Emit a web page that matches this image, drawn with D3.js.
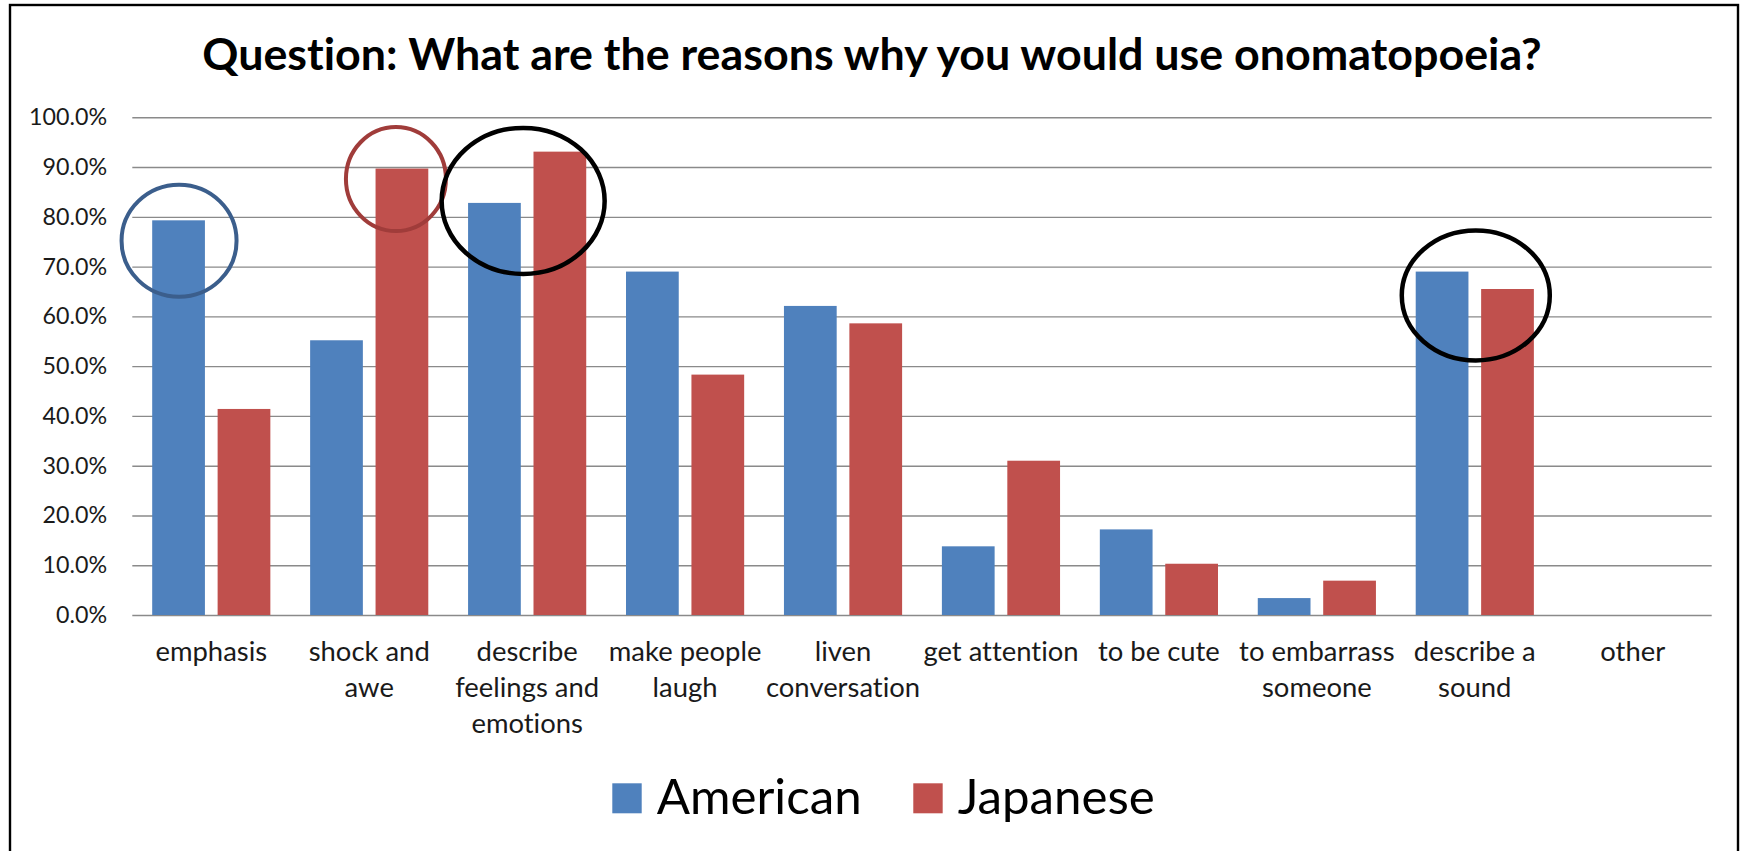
<!DOCTYPE html>
<html>
<head>
<meta charset="utf-8">
<script src="https://cdn.jsdelivr.net/npm/d3@7"></script>
<style>
html, body { margin: 0; padding: 0; background: #ffffff; }
svg { display: block; }
text { font-variant-ligatures: none; font-feature-settings: "liga" 0, "clig" 0, "dlig" 0; }
</style>
</head>
<body>
<svg id="chart" width="1743" height="851"></svg>
<script>
// ---------------- data ----------------
const titleText = "Question: What are the reasons why you would use onomatopoeia?";
const categories = ["emphasis", "shock and awe", "describe feelings and emotions", "make people laugh",
  "liven conversation", "get attention", "to be cute", "to embarrass someone", "describe a sound", "other"];
const categoryLabelLines = [["emphasis"], ["shock and", "awe"], ["describe", "feelings and", "emotions"],
  ["make people", "laugh"], ["liven", "conversation"], ["get attention"], ["to be cute"],
  ["to embarrass", "someone"], ["describe a", "sound"], ["other"]];
const seriesNames = ["American", "Japanese"];
const americanValues = [79.3, 55.2, 82.8, 69.0, 62.1, 13.8, 17.2, 3.4, 69.0, 0];
const japaneseValues = [41.4, 89.7, 93.1, 48.3, 58.6, 31.0, 10.3, 6.9, 65.5, 0];
const yTickValues = [0, 10, 20, 30, 40, 50, 60, 70, 80, 90, 100];
// highlighted bars (hand-drawn ellipses in the original)
const highlightCategories = ["emphasis", "shock and awe", "describe feelings and emotions", "describe a sound"];
const highlightTargets = ["American", "Japanese", "both", "both"];
const highlightCenterValues = [75.2, 87.6, 83.2, 64.2];

// ---------------- layout / style ----------------
const W = 1743, H = 851;
const plot = { left: 132.3, right: 1711.7, top: 117.3, bottom: 615 };
const colors = { American: "#4f81bd", Japanese: "#c0504d" };
const FONT = "Lato, 'Open Sans', 'Noto Sans', sans-serif";
const svg = d3.select("#chart");

svg.append("rect").attr("x", 0).attr("y", 0).attr("width", W).attr("height", H).attr("fill", "#fff");

// font fitting helper: size so that sample string reaches target width
function fitSize(sample, targetWidth, weight) {
  const t = svg.append("text").attr("font-family", FONT).attr("font-size", 100)
    .attr("font-weight", weight || "normal").text(sample);
  const w = t.node().getComputedTextLength();
  t.remove();
  return 100 * targetWidth / w;
}
const titleSize = fitSize(titleText, 1340, "bold");
const yLabelSize = fitSize("100.0%", 78, "normal");
const xLabelSize = fitSize("emphasis", 111.7, "normal");
const legendSize = fitSize("American", 205, "normal");

// chart border
svg.append("rect")
  .attr("x", 10).attr("y", 5)
  .attr("width", 1738 - 10).attr("height", 900)
  .attr("fill", "none").attr("stroke", "#000").attr("stroke-width", 2.4);

// title
svg.append("text")
  .attr("x", 872).attr("y", 70)
  .attr("text-anchor", "middle")
  .attr("font-family", FONT).attr("font-weight", "bold")
  .attr("font-size", titleSize).attr("fill", "#000")
  .text(titleText);

// scales
const x0 = d3.scaleBand().domain(categories).range([plot.left, plot.right]).padding(0);
const x1 = d3.scaleBand().domain(seriesNames).range([0, x0.bandwidth()])
  .paddingInner(0.194).paddingOuter(0.304);
const y = d3.scaleLinear().domain([0, 100]).range([plot.bottom, plot.top]);

// y axis with gridlines
const yAxis = d3.axisLeft(y)
  .tickValues(yTickValues)
  .tickSize(-(plot.right - plot.left))
  .tickPadding(plot.left - 107)
  .tickFormat(d => d.toFixed(1) + "%");
const gy = svg.append("g").attr("transform", `translate(${plot.left},0)`).call(yAxis);
gy.select(".domain").remove();
gy.selectAll(".tick line").attr("stroke", "#8a8a8a").attr("stroke-width", 1.4);
gy.selectAll(".tick text")
  .attr("font-family", FONT).attr("font-size", yLabelSize).attr("fill", "#1a1a1a");

// bars
const rows = categories.map((c, i) => ({ cat: c, American: americanValues[i], Japanese: japaneseValues[i] }));
const groups = svg.append("g").selectAll("g").data(rows).join("g")
  .attr("transform", d => `translate(${x0(d.cat)},0)`);
groups.selectAll("rect")
  .data(d => seriesNames.map(s => ({ s, v: d[s] })))
  .join("rect")
  .attr("x", d => x1(d.s))
  .attr("width", x1.bandwidth())
  .attr("y", d => y(d.v))
  .attr("height", d => y(0) - y(d.v))
  .attr("fill", d => colors[d.s]);

// x axis labels
const xAxis = d3.axisBottom(x0).tickSize(0).tickPadding(0);
const gx = svg.append("g").attr("transform", `translate(0,${plot.bottom})`).call(xAxis);
gx.select(".domain").remove();
gx.selectAll(".tick text").each(function (d, i) {
  const t = d3.select(this);
  t.text(null).attr("y", 0).attr("dy", null)
    .attr("font-family", FONT).attr("font-size", xLabelSize).attr("fill", "#1a1a1a");
  categoryLabelLines[categories.indexOf(d)].forEach((line, k) => {
    t.append("tspan").attr("x", 0).attr("y", 46 + k * 35.8).text(line);
  });
});

// highlight ellipses
const ellipseStyle = [
  { rx: 57.5, ry: 56, stroke: "#3b5e8c", sw: 4, dx: 0.5 },
  { rx: 50, ry: 52, stroke: "#a03c3a", sw: 4, dx: -6 },
  { rx: 81.5, ry: 73, stroke: "#000", sw: 4.5, dx: -4 },
  { rx: 74, ry: 65, stroke: "#000", sw: 4.5, dx: 1 }
];
highlightCategories.forEach((c, i) => {
  const tgt = highlightTargets[i];
  const cx = tgt === "both" ? x0(c) + x0.bandwidth() / 2 : x0(c) + x1(tgt) + x1.bandwidth() / 2;
  const st = ellipseStyle[i];
  svg.append("ellipse")
    .attr("cx", cx + st.dx).attr("cy", y(highlightCenterValues[i]))
    .attr("rx", st.rx).attr("ry", st.ry)
    .attr("fill", "none").attr("stroke", st.stroke).attr("stroke-width", st.sw);
});

// legend
const legend = svg.append("g");
let lx = 612.3;
seriesNames.forEach(s => {
  legend.append("rect").attr("x", lx).attr("y", 783.3).attr("width", 29.4).attr("height", 30)
    .attr("fill", colors[s]);
  const t = legend.append("text").attr("x", lx + 44.4).attr("y", 814)
    .attr("font-family", FONT).attr("font-size", legendSize).attr("fill", "#000").text(s);
  lx = lx + 44.4 + t.node().getComputedTextLength() + 51.6;
});
</script>
</body>
</html>
